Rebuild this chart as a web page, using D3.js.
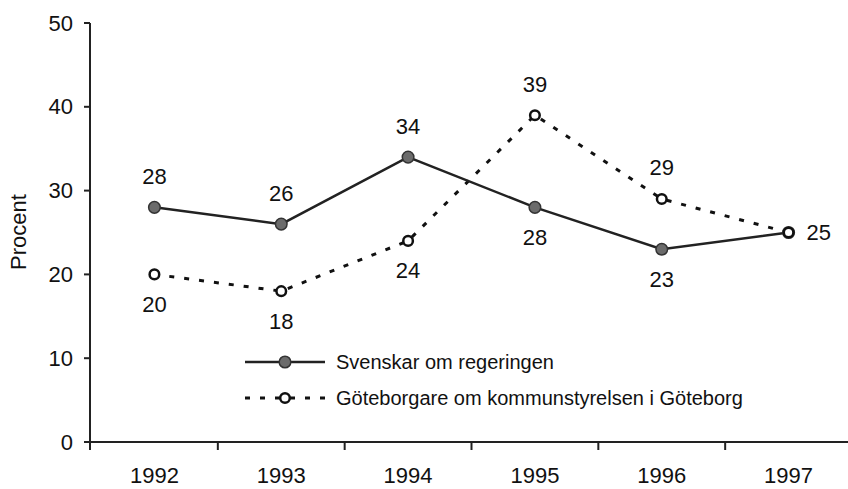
<!DOCTYPE html>
<html>
<head>
<meta charset="utf-8">
<script src="https://cdn.jsdelivr.net/npm/d3@7"></script>
<style>
  html, body { margin: 0; padding: 0; background: #fff; }
  svg { display: block; }
  text { font-family: "Liberation Sans", Arial, Helvetica, sans-serif; fill: #111; }
</style>
</head>
<body>
<svg id="chart" width="848" height="489"></svg>
<script>
// ---- data ----
const years = ["1992", "1993", "1994", "1995", "1996", "1997"];
const svenskar = [28, 26, 34, 28, 23, 25];
const goteborgare = [20, 18, 24, 39, 29, 25];
const yTicks = [0, 10, 20, 30, 40, 50];
const seriesNames = ["Svenskar om regeringen", "Göteborgare om kommunstyrelsen i Göteborg"];
const yTitle = "Procent";

// ---- drawing ----
const svg = d3.select("#chart");
const W = 848, H = 489;
const axisX = 90, axisY = 442;

const x = d3.scaleBand().domain(years).range([91, 852]).paddingInner(0).paddingOuter(0);
const y = d3.scaleLinear().domain([0, 50]).range([442, 23]);
const cx = d => x(d) + x.bandwidth() / 2;

// Y axis
svg.append("line").attr("x1", axisX).attr("x2", axisX).attr("y1", y(50)).attr("y2", axisY)
  .attr("stroke", "#222").attr("stroke-width", 2);
yTicks.forEach(t => {
  svg.append("line").attr("x1", axisX - 6).attr("x2", axisX).attr("y1", y(t)).attr("y2", y(t))
    .attr("stroke", "#222").attr("stroke-width", 2);
  svg.append("text").attr("x", 73).attr("y", y(t)).attr("text-anchor", "end")
    .attr("dominant-baseline", "central").attr("font-size", 22).text(t);
});

// X axis
svg.append("line").attr("x1", axisX - 1).attr("x2", W).attr("y1", axisY).attr("y2", axisY)
  .attr("stroke", "#222").attr("stroke-width", 2);
const bounds = years.map(d => x(d)).concat([x(years[years.length - 1]) + x.bandwidth()]);
bounds.forEach((b, i) => {
  const bx = i === 0 ? axisX : b;
  svg.append("line").attr("x1", bx).attr("x2", bx).attr("y1", axisY).attr("y2", axisY + 8)
    .attr("stroke", "#222").attr("stroke-width", 2);
});
years.forEach(d => {
  svg.append("text").attr("x", cx(d)).attr("y", 475).attr("text-anchor", "middle")
    .attr("dominant-baseline", "central").attr("font-size", 22).text(d);
});

// Y title
svg.append("text").attr("transform", "translate(18,232) rotate(-90)")
  .attr("text-anchor", "middle").attr("dominant-baseline", "central")
  .attr("font-size", 22).text(yTitle);

// Lines
const line = d3.line().x((v, i) => cx(years[i])).y(v => y(v));
svg.append("path").datum(goteborgare).attr("d", line).attr("fill", "none")
  .attr("stroke", "#111").attr("stroke-width", 3).attr("stroke-dasharray", "5 10");
svg.append("path").datum(svenskar).attr("d", line).attr("fill", "none")
  .attr("stroke", "#222").attr("stroke-width", 2.5);

// Markers
svg.selectAll(".m1").data(svenskar).enter().append("circle")
  .attr("cx", (v, i) => cx(years[i])).attr("cy", v => y(v)).attr("r", 5.8)
  .attr("fill", "#6b6b6b").attr("stroke", "#333").attr("stroke-width", 1.5);
svg.selectAll(".m2").data(goteborgare).enter().append("circle")
  .attr("cx", (v, i) => cx(years[i])).attr("cy", v => y(v)).attr("r", 4.8)
  .attr("fill", "#fff").attr("stroke", "#111").attr("stroke-width", 2.5);

// Value labels
const place1 = ["above", "above", "above", "below", "below", "right"];
const place2 = ["below", "below", "below", "above", "above", "none"];
function addLabels(vals, places) {
  vals.forEach((v, i) => {
    const p = places[i];
    if (p === "none") return;
    let lx = cx(years[i]), ly = y(v), anchor = "middle";
    if (p === "above") ly -= 31;
    else if (p === "below") ly += 30;
    else if (p === "right") { lx += 18; anchor = "start"; }
    svg.append("text").attr("x", lx).attr("y", ly).attr("text-anchor", anchor)
      .attr("dominant-baseline", "central").attr("font-size", 22).text(v);
  });
}
addLabels(svenskar, place1);
addLabels(goteborgare, place2);

// Legend
const lg = svg.append("g");
const rows = [362, 398];
lg.append("line").attr("x1", 245).attr("x2", 325).attr("y1", rows[0]).attr("y2", rows[0])
  .attr("stroke", "#222").attr("stroke-width", 2.5);
lg.append("circle").attr("cx", 285).attr("cy", rows[0]).attr("r", 5.8)
  .attr("fill", "#6b6b6b").attr("stroke", "#333").attr("stroke-width", 1.5);
lg.append("line").attr("x1", 245).attr("x2", 327).attr("y1", rows[1]).attr("y2", rows[1])
  .attr("stroke", "#111").attr("stroke-width", 3).attr("stroke-dasharray", "5 10");
lg.append("circle").attr("cx", 285).attr("cy", rows[1]).attr("r", 4.8)
  .attr("fill", "#fff").attr("stroke", "#111").attr("stroke-width", 2.5);
seriesNames.forEach((n, i) => {
  lg.append("text").attr("x", 336).attr("y", rows[i]).attr("dominant-baseline", "central")
    .attr("font-size", 20).text(n);
});
</script>
</body>
</html>
